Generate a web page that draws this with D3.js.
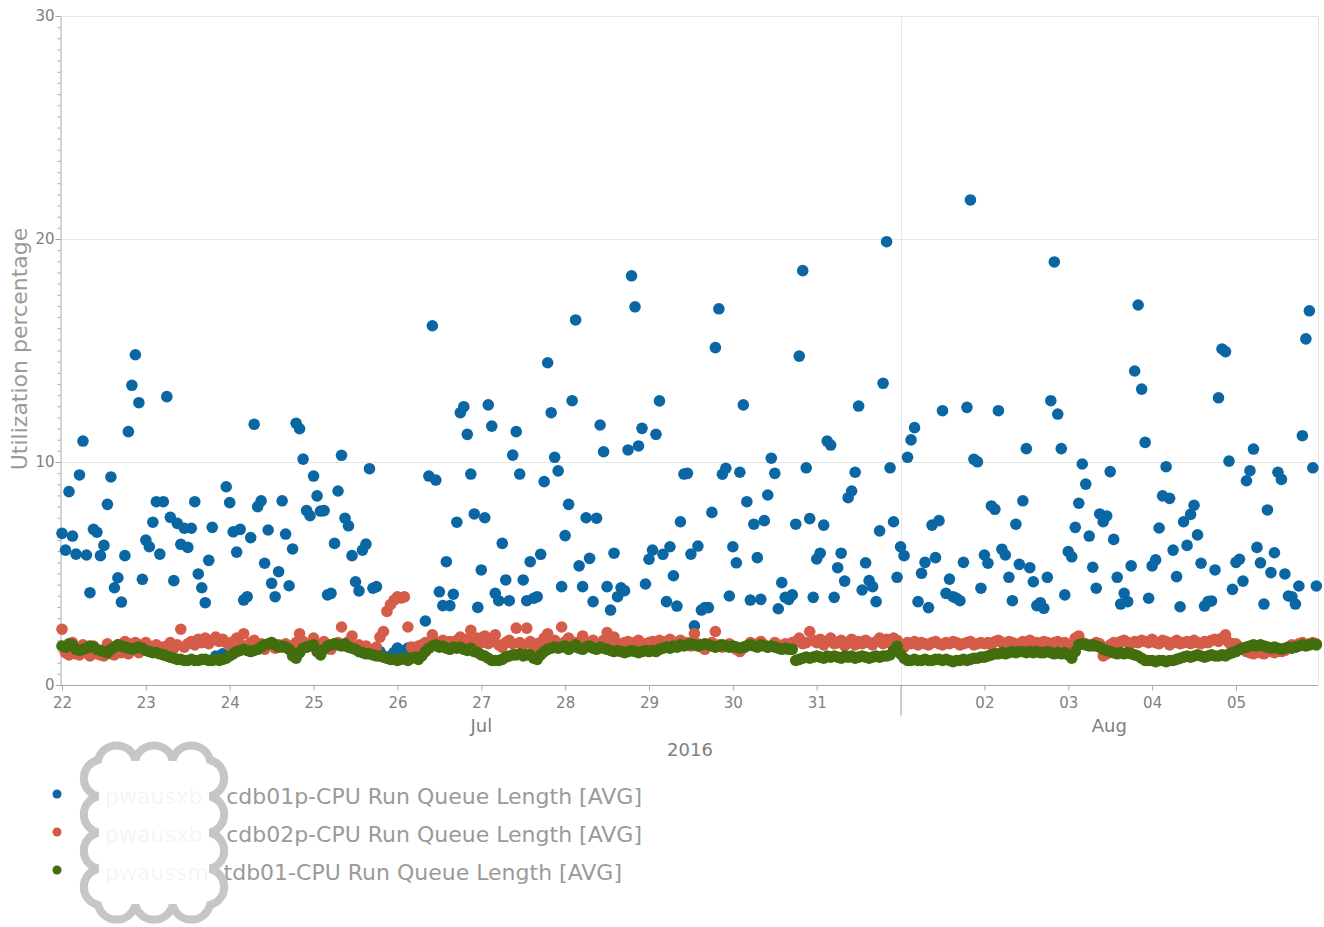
<!DOCTYPE html>
<html lang="en">
<head>
<meta charset="UTF-8">
<title>CPU Run Queue Length</title>
<style>
  body { margin: 0; background: #fff; }
  svg text { font-family: "DejaVu Sans", Verdana, sans-serif; }
</style>
</head>
<body>
<svg id="chart" width="1324" height="927"></svg>
<script src="https://d3js.org/d3.v7.min.js"></script>
<script>
// hourly samples, first one at 2016-07-22 00:00
var startDate = Date.UTC(2016, 6, 22);
var hour = 3600 * 1000;

var blueValues = [
  6.80,6.05,8.67,6.68,5.87,9.42,10.94,5.83,4.14,6.98,6.85,5.80,6.26,8.10,9.33,4.36,4.81,3.72,5.80,11.36,13.44,14.81,12.66,4.74,
  6.50,6.20,7.30,8.22,5.87,8.22,12.93,7.52,4.68,7.25,6.31,7.03,6.17,7.03,8.22,4.98,4.36,3.69,5.59,7.07,1.3,1.2,1.4,8.89,
  8.18,6.87,5.96,6.98,3.81,3.96,6.61,11.69,8.0,8.26,5.46,6.95,4.56,3.96,5.08,8.26,6.77,4.45,6.10,11.74,11.49,10.13,7.82,7.59,
  9.37,8.48,7.80,7.82,4.04,4.11,6.35,8.70,10.30,7.48,7.14,5.80,4.63,4.22,6.05,6.32,9.70,4.34,4.41,1.5,1.3,1.21,1.3,1.45,
  1.66,1.55,1.5,1.66,1.45,1.27,1.5,1.6,2.87,9.37,16.11,9.19,4.18,3.56,5.53,3.56,4.07,7.30,12.21,12.48,11.24,9.46,7.67,3.48,
  5.16,7.50,12.56,11.61,4.11,3.78,6.35,4.71,3.78,10.31,11.36,9.46,4.71,3.78,5.53,3.89,3.96,5.86,9.12,14.45,12.21,10.21,9.60,4.41,
  6.70,8.10,12.75,16.37,5.34,4.41,7.50,5.68,3.74,7.48,11.66,10.46,4.41,3.36,5.91,3.96,4.36,4.23,10.54,18.35,16.96,10.72,11.51,4.53,
  5.64,6.05,11.24,12.74,5.86,3.74,6.20,4.90,3.54,7.32,9.46,9.49,5.87,2.65,6.23,3.36,3.47,3.47,7.74,15.13,16.87,9.45,9.72,3.99,
  6.20,5.48,9.54,12.56,8.22,3.81,7.21,5.71,3.84,7.37,8.52,10.17,9.49,3.42,4.59,3.93,3.84,4.04,7.21,14.75,18.58,9.74,7.46,3.93,
  5.65,5.91,7.17,10.94,10.76,3.93,5.26,5.91,4.66,8.40,8.70,9.54,12.51,4.26,5.48,4.68,4.41,3.74,6.91,13.53,19.88,9.74,7.32,4.83,
  6.20,5.80,10.21,10.99,11.54,3.74,5.01,5.50,3.47,7.17,5.71,7.37,12.30,4.11,4.75,3.96,3.89,3.78,5.50,12.45,21.75,10.12,10.01,4.34,
  5.83,5.46,8.03,7.88,12.30,6.09,5.83,4.83,3.78,7.21,5.41,8.26,10.60,5.26,4.63,3.56,3.69,3.44,4.83,12.75,18.97,12.15,10.60,4.04,
  5.98,5.75,7.07,8.15,9.91,9.01,6.68,5.28,4.34,7.67,7.32,7.58,9.57,6.53,4.83,3.63,4.11,3.74,5.34,14.08,17.04,13.27,10.88,3.89,
  5.34,5.61,7.04,8.48,9.79,8.37,6.05,4.86,3.51,7.32,6.26,7.65,8.06,6.73,5.46,3.54,3.74,3.77,5.16,12.88,15.07,14.95,10.04,4.29,
  5.50,5.64,4.66,9.16,9.61,10.58,6.17,5.48,3.63,7.85,5.04,5.93,9.54,9.22,4.98,3.99,3.96,3.63,4.44,11.18,15.52,16.78,9.74,4.44
];

var redValues = [
  2.5,1.45,1.35,1.9,1.4,1.35,1.8,1.45,1.3,1.75,1.4,1.35,1.3,1.85,1.4,1.35,1.8,1.45,1.95,1.4,1.85,1.9,1.45,1.8,
  1.9,1.75,1.6,1.8,1.55,1.7,1.75,1.9,1.65,1.8,2.5,1.7,1.85,1.95,1.8,2.05,1.9,2.1,1.85,2.0,2.15,1.95,2.05,1.9,
  1.8,1.95,2.1,1.85,2.3,1.75,1.9,2.0,1.7,1.85,1.6,1.75,1.9,1.65,1.8,1.7,1.85,1.75,1.6,1.9,2.3,1.95,1.7,1.8,
  2.1,1.8,1.7,1.95,1.75,1.6,1.85,1.9,2.6,1.8,1.95,2.2,1.7,1.8,1.65,1.75,1.6,1.55,1.7,2.15,2.4,3.3,3.6,3.8,
  3.95,3.9,3.95,2.6,1.7,1.6,1.75,1.8,1.9,1.85,2.25,1.9,1.8,2.0,1.85,1.95,1.8,2.0,2.15,1.85,2.05,2.45,1.9,2.1,
  1.9,2.2,1.85,1.95,2.25,1.8,1.7,1.9,2.0,1.85,2.55,1.9,1.8,2.55,1.95,1.7,1.85,1.9,2.1,2.3,1.95,2.0,1.85,2.6,
  1.95,2.1,1.8,1.9,1.75,2.2,1.85,1.9,2.0,1.8,1.85,2.0,2.35,1.95,2.15,1.8,1.85,1.9,1.95,1.85,1.9,2.0,1.8,1.85,
  1.9,1.95,1.85,2.0,1.9,1.95,2.05,1.8,1.9,2.0,1.85,1.9,1.75,2.3,1.85,1.7,1.6,1.75,1.9,2.4,1.8,1.7,1.75,1.85,
  1.7,1.6,1.5,1.65,1.75,1.9,1.8,1.85,1.95,1.8,1.7,1.75,1.9,1.8,1.7,1.85,1.75,1.9,1.95,2.1,1.85,1.9,2.4,2.0,
  1.9,2.05,1.8,1.95,2.1,1.85,1.9,2.0,1.75,1.9,2.05,1.8,1.95,1.85,2.0,1.9,1.8,1.95,2.1,1.85,2.05,1.9,2.1,2.0,
  1.85,1.7,1.9,1.85,1.95,1.8,1.9,1.85,1.8,1.9,1.95,1.85,1.8,1.9,1.85,1.95,1.9,1.8,1.85,1.9,1.95,1.8,1.85,1.9,
  1.85,1.9,1.8,1.95,2.0,1.9,1.85,1.95,1.9,1.8,1.85,1.95,1.9,2.0,1.85,1.9,1.8,1.95,1.9,1.85,1.9,1.95,1.85,1.9,
  1.6,1.8,2.1,2.2,1.9,1.85,1.8,1.75,1.9,1.85,1.3,1.4,1.8,1.9,1.85,1.95,2.0,1.9,1.85,1.95,1.9,2.0,1.95,1.9,
  2.05,1.9,1.85,2.0,1.95,1.8,1.9,2.0,1.85,1.9,1.95,1.85,2.0,1.9,1.85,1.95,1.9,2.0,2.05,1.95,2.1,2.25,1.9,1.85,
  1.85,1.7,1.6,1.5,1.45,1.4,1.5,1.45,1.4,1.55,1.5,1.45,1.6,1.5,1.55,1.65,1.8,1.7,1.85,1.9,1.8,1.85,1.9,1.85
];

var greenValues = [
  1.75,1.7,1.85,1.8,1.6,1.55,1.6,1.65,1.75,1.7,1.6,1.55,1.5,1.45,1.6,1.7,1.8,1.75,1.7,1.65,1.6,1.65,1.7,1.65,
  1.55,1.5,1.45,1.45,1.4,1.35,1.3,1.25,1.2,1.15,1.15,1.1,1.1,1.15,1.1,1.1,1.15,1.15,1.1,1.1,1.15,1.1,1.15,1.2,
  1.3,1.4,1.5,1.55,1.6,1.55,1.5,1.55,1.6,1.7,1.8,1.85,1.9,1.8,1.7,1.75,1.7,1.6,1.3,1.2,1.45,1.65,1.7,1.75,
  1.8,1.5,1.35,1.6,1.75,1.8,1.85,1.8,1.75,1.85,1.7,1.65,1.6,1.5,1.45,1.4,1.4,1.35,1.3,1.3,1.25,1.2,1.15,1.15,
  1.1,1.15,1.2,1.1,1.2,1.25,1.15,1.3,1.5,1.65,1.75,1.8,1.7,1.75,1.65,1.6,1.7,1.65,1.7,1.6,1.55,1.65,1.5,1.45,
  1.35,1.3,1.2,1.1,1.1,1.1,1.15,1.25,1.3,1.35,1.35,1.4,1.3,1.35,1.35,1.2,1.15,1.35,1.5,1.6,1.65,1.7,1.65,1.7,
  1.75,1.6,1.7,1.8,1.65,1.6,1.7,1.75,1.65,1.6,1.7,1.65,1.6,1.55,1.5,1.55,1.5,1.45,1.5,1.55,1.5,1.45,1.5,1.55,
  1.5,1.55,1.5,1.6,1.65,1.7,1.65,1.75,1.7,1.8,1.75,1.8,1.85,1.8,1.75,1.8,1.85,1.8,1.75,1.7,1.75,1.8,1.75,1.7,
  1.75,1.7,1.65,1.7,1.75,1.8,1.75,1.7,1.8,1.75,1.7,1.75,1.7,1.65,1.6,1.65,1.6,1.6,1.1,1.15,1.2,1.25,1.2,1.25,
  1.3,1.25,1.2,1.3,1.25,1.3,1.25,1.2,1.3,1.25,1.3,1.2,1.25,1.3,1.25,1.2,1.25,1.3,1.25,1.3,1.3,1.35,1.55,1.75,
  1.4,1.2,1.1,1.1,1.15,1.1,1.1,1.15,1.1,1.1,1.15,1.15,1.1,1.15,1.1,1.05,1.1,1.1,1.15,1.1,1.15,1.2,1.2,1.25,
  1.25,1.3,1.35,1.4,1.4,1.45,1.4,1.45,1.5,1.45,1.5,1.5,1.45,1.5,1.45,1.5,1.45,1.45,1.5,1.45,1.4,1.45,1.4,1.45,
  1.35,1.2,1.5,1.8,1.85,1.8,1.75,1.8,1.75,1.7,1.6,1.55,1.5,1.45,1.4,1.45,1.4,1.45,1.4,1.35,1.3,1.2,1.1,1.1,
  1.1,1.05,1.1,1.1,1.05,1.1,1.1,1.15,1.2,1.25,1.3,1.25,1.3,1.35,1.3,1.25,1.3,1.35,1.3,1.3,1.35,1.3,1.4,1.45,
  1.5,1.6,1.65,1.7,1.75,1.8,1.75,1.8,1.75,1.7,1.65,1.7,1.65,1.6,1.65,1.7,1.65,1.7,1.75,1.8,1.75,1.8,1.85,1.8
];

var dayLabels = ["22","23","24","25","26","27","28","29","30","31","","02","03","04","05"];
var monthLabels = ["Jul", "Aug"];
var yearLabel = "2016";
var yTicks = [0, 10, 20, 30];
var yTitle = "Utilization percentage";

var seriesColors = ["#0b67a4", "#d65c4a", "#436e0e"];
// the start of each legend name sits under the redaction cloud
var legendPrefixes = ["pwausxb", "pwausxb", "pwaussm"];
var legendSuffixes = [
  "cdb01p-CPU Run Queue Length [AVG]",
  "cdb02p-CPU Run Queue Length [AVG]",
  "tdb01-CPU Run Queue Length [AVG]"
];

var svg = d3.select("#chart");
var plotLeft = 62, plotRight = 1318, plotTop = 16, plotBottom = 685;
var font = '"DejaVu Sans", Verdana, sans-serif';

var endDate = startDate + 14.978 * 24 * hour;
var x = d3.scaleUtc().domain([new Date(startDate), new Date(endDate)]).range([plotLeft, plotRight]);
var y = d3.scaleLinear().domain([0, 30]).range([plotBottom, plotTop]);

var dayTicks = d3.range(15).map(function(i) { return new Date(startDate + i * 24 * hour); });
var augFirst = new Date(Date.UTC(2016, 7, 1));

// grid
svg.append("g").selectAll("line")
  .data(yTicks.filter(function(d) { return d > 0; }))
  .enter().append("line")
    .attr("x1", 60).attr("x2", plotRight)
    .attr("y1", function(d) { return Math.round(y(d)) + 0.5; })
    .attr("y2", function(d) { return Math.round(y(d)) + 0.5; })
    .attr("stroke", "#e6e6e6");

svg.append("line")
  .attr("x1", Math.round(x(augFirst)) + 0.5).attr("x2", Math.round(x(augFirst)) + 0.5)
  .attr("y1", plotTop).attr("y2", plotBottom)
  .attr("stroke", "#e6e6e6");
svg.append("line")
  .attr("x1", plotRight + 0.5).attr("x2", plotRight + 0.5)
  .attr("y1", plotTop).attr("y2", plotBottom)
  .attr("stroke", "#e6e6e6");

// x axis
var gx = svg.append("g")
  .attr("transform", "translate(0," + (plotBottom + 0.5) + ")")
  .attr("color", "#a8a8a8")
  .call(d3.axisBottom(x)
    .tickValues(dayTicks)
    .tickFormat(function(d, i) { return dayLabels[i]; })
    .tickSize(5).tickSizeOuter(0).tickPadding(7));
gx.attr("font-family", font).attr("font-size", 15);
gx.select(".domain").attr("d", "M60,0H" + plotRight);
gx.selectAll("text").attr("fill", "#7f7f7f");
gx.selectAll(".tick line").filter(function(d, i) { return dayLabels[i] === ""; })
  .attr("y2", 30).attr("stroke", "#9a9a9a");

// month + year labels
var monthCenters = [
  (x(new Date(startDate)) + x(augFirst)) / 2,
  (x(augFirst) + plotRight) / 2
];
svg.append("g").selectAll("text")
  .data(monthLabels)
  .enter().append("text")
    .attr("x", function(d, i) { return monthCenters[i]; })
    .attr("y", 732)
    .attr("text-anchor", "middle")
    .attr("fill", "#7f7f7f")
    .style("font-size", "18px")
    .text(function(d) { return d; });
svg.append("text")
  .attr("x", (plotLeft + plotRight) / 2).attr("y", 756)
  .attr("text-anchor", "middle")
  .attr("fill", "#7f7f7f")
  .style("font-size", "18px")
  .text(yearLabel);

// y axis, minor ticks every 0.5
svg.append("g")
  .attr("transform", "translate(60.5,0)")
  .attr("color", "#a8a8a8")
  .call(d3.axisLeft(y).tickValues(d3.range(0, 30.01, 0.5)).tickSize(3).tickFormat(""))
  .select(".domain").remove();
var gy = svg.append("g")
  .attr("transform", "translate(60.5,0)")
  .attr("color", "#a8a8a8")
  .call(d3.axisLeft(y).tickValues(yTicks).tickSize(5).tickSizeOuter(0).tickPadding(1));
gy.attr("font-family", font).attr("font-size", 15);
gy.selectAll("text").attr("fill", "#7f7f7f");

svg.append("text")
  .attr("transform", "translate(27,349) rotate(-90)")
  .attr("text-anchor", "middle")
  .attr("fill", "#9a9a9a")
  .style("font-size", "22px")
  .text(yTitle);

// points
var allSeries = [blueValues, redValues, greenValues];
allSeries.forEach(function(values, s) {
  svg.append("g").selectAll("circle")
    .data(values)
    .enter().append("circle")
      .attr("cx", function(d, i) { return x(new Date(startDate + i * hour)); })
      .attr("cy", function(d) { return y(d); })
      .attr("r", 5.8)
      .attr("fill", seriesColors[s]);
});

// legend
var legendY = [804, 842, 880];
var suffixEnd = [642, 642, 622];
var legend = svg.append("g");
legend.selectAll("circle")
  .data(seriesColors)
  .enter().append("circle")
    .attr("cx", 57)
    .attr("cy", function(d, i) { return legendY[i] - 10; })
    .attr("r", 4.5)
    .attr("fill", function(d) { return d; });
legend.selectAll("text.pre")
  .data(legendPrefixes)
  .enter().append("text")
    .attr("class", "pre")
    .attr("x", 105)
    .attr("y", function(d, i) { return legendY[i]; })
    .attr("fill", "#9a9a9a")
    .style("font-size", "22px")
    .text(function(d) { return d; });
legend.selectAll("text.suf")
  .data(legendSuffixes)
  .enter().append("text")
    .attr("class", "suf")
    .attr("x", function(d, i) { return suffixEnd[i]; })
    .attr("y", function(d, i) { return legendY[i]; })
    .attr("text-anchor", "end")
    .attr("fill", "#9a9a9a")
    .style("font-size", "22px")
    .text(function(d) { return d; });

// redaction cloud drawn over the legend names
function cloudPath(x0, y0, x1, y1, nx, ny) {
  var cw = (x1 - x0) / nx, ch = (y1 - y0) / ny;
  var rx = cw / 2 * 1.03, ry = ch / 2 * 1.03;
  var p = "M" + x0 + "," + y0;
  var i;
  for (i = 1; i <= nx; i++) p += " A" + rx + "," + rx + " 0 0 1 " + (x0 + i * cw) + "," + y0;
  for (i = 1; i <= ny; i++) p += " A" + ry + "," + ry + " 0 0 1 " + x1 + "," + (y0 + i * ch);
  for (i = 1; i <= nx; i++) p += " A" + rx + "," + rx + " 0 0 1 " + (x1 - i * cw) + "," + y1;
  for (i = 1; i <= ny; i++) p += " A" + ry + "," + ry + " 0 0 1 " + x0 + "," + (y1 - i * ch);
  return p + "Z";
}
svg.append("path")
  .attr("d", cloudPath(98, 760, 210, 905, 3, 4))
  .attr("fill", "#fff")
  .attr("fill-opacity", 0.9)
  .attr("stroke", "#c6c6c6")
  .attr("stroke-width", 8);
</script>
</body>
</html>
